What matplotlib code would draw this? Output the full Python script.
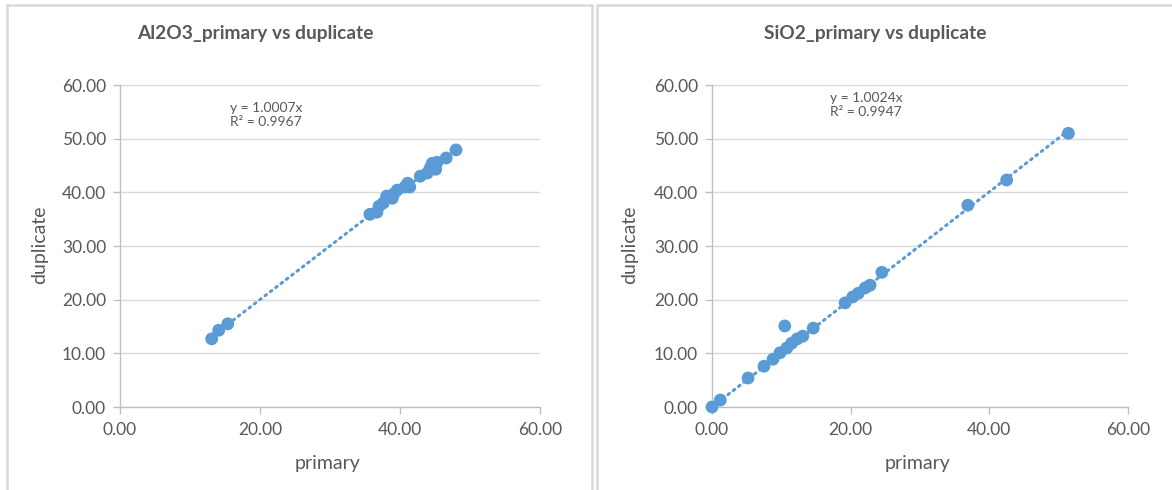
import matplotlib
matplotlib.use("Agg")
import matplotlib.pyplot as plt
from matplotlib.patches import Rectangle
import numpy as np

plt.rcParams['font.family'] = ['Lato', 'DejaVu Sans']

# Al2O3 data
al_primary = [13.1, 14.1, 15.4, 35.7, 36.7, 37.0, 37.6, 38.1, 38.9, 39.1, 39.6,
              40.7, 41.1, 41.4, 42.9, 43.9, 44.3, 44.6, 45.3, 45.1, 46.6, 48.0]
al_duplicate = [12.7, 14.3, 15.5, 35.9, 36.3, 37.4, 38.0, 39.3, 38.9, 39.7, 40.4,
                41.0, 41.7, 41.0, 43.0, 43.6, 44.5, 45.4, 45.6, 44.3, 46.4, 47.9]
al_slope = 1.0007
al_r2 = 0.9967

# SiO2 data
si_primary = [0.0, 1.2, 5.2, 7.5, 8.8, 9.8, 10.5, 10.8, 11.5, 12.3, 13.1, 14.6,
              19.2, 20.3, 21.1, 22.1, 22.8, 24.5, 36.9, 42.5, 51.4]
si_duplicate = [0.0, 1.3, 5.4, 7.6, 8.9, 10.1, 15.1, 11.0, 11.9, 12.7, 13.2, 14.7,
                19.4, 20.5, 21.2, 22.2, 22.7, 25.1, 37.6, 42.3, 51.0]
si_slope = 1.0024
si_r2 = 0.9947

titles = ["Al2O3_primary vs duplicate", "SiO2_primary vs duplicate"]
x_ticks = [0, 20, 40, 60]
y_ticks = [0, 10, 20, 30, 40, 50, 60]

W, H = 1172, 490
fig = plt.figure(figsize=(W / 100, H / 100), dpi=100)
fig.patch.set_facecolor('white')

blue = '#5b9bd5'
txt = '#595959'
axc = '#bfbfbf'
gridc = '#d9d9d9'

def fx(px):
    return px / W

def fy(py):
    return 1 - py / H

# panel borders
for (x0, x1) in [(7, 592), (597, 1180)]:
    fig.patches.append(Rectangle((fx(x0), fy(500)), fx(x1 - x0), (500 - 5) / H,
                                 transform=fig.transFigure, fill=False,
                                 edgecolor=gridc, linewidth=1.8, zorder=0))

panels = [
    dict(px=(120, 540), prim=al_primary, dup=al_duplicate, slope=al_slope, r2=al_r2,
         title_x=255, eq_x=230, eq_y=(112, 126.5), ylab_x=40, xlab_x=328),
    dict(px=(712, 1128), prim=si_primary, dup=si_duplicate, slope=si_slope, r2=si_r2,
         title_x=875, eq_x=830, eq_y=(102, 116.5), ylab_x=630, xlab_x=918),
]

for i, p in enumerate(panels):
    x0, x1 = p['px']
    ax = fig.add_axes([fx(x0), fy(407), fx(x1 - x0), (407 - 85) / H])
    ax.set_xlim(0, 60)
    ax.set_ylim(0, 60)
    ax.set_xticks(x_ticks)
    ax.set_yticks(y_ticks)
    ax.set_xticklabels([f"{v:.2f}" for v in x_ticks])
    ax.set_yticklabels([f"{v:.2f}" for v in y_ticks])
    for s in ['top', 'right']:
        ax.spines[s].set_visible(False)
    for s in ['left', 'bottom']:
        ax.spines[s].set_color(axc)
        ax.spines[s].set_linewidth(1.0)
    ax.tick_params(axis='both', colors=axc, labelcolor=txt, labelsize=12.5,
                   length=5, width=1.0, direction='out')
    ax.tick_params(axis='x', pad=6)
    ax.tick_params(axis='y', pad=5)
    ax.grid(axis='y', color=gridc, linewidth=1.0)
    ax.set_axisbelow(True)

    prim = np.array(p['prim'])
    dup = np.array(p['dup'])
    xs = np.array([prim.min(), prim.max()])
    ax.plot(xs, p['slope'] * xs, linestyle=(0, (0.6, 1.6)), color=blue,
            linewidth=2.2, dash_capstyle='round', zorder=2)
    ax.scatter(prim, dup, s=85, color=blue, edgecolors='none', zorder=3, clip_on=False)

    fig.text(fx(p['title_x']), fy(33), titles[i], ha='center', va='center',
             fontsize=13.8, fontweight='bold', color=txt)
    fig.text(fx(p['eq_x']), fy(p['eq_y'][0]), f"y = {p['slope']:.4f}x", ha='left',
             va='baseline', fontsize=10, color=txt)
    fig.text(fx(p['eq_x']), fy(p['eq_y'][1]), f"R² = {p['r2']:.4f}", ha='left',
             va='baseline', fontsize=10, color=txt)
    fig.text(fx(p['ylab_x']), fy(245), "duplicate", rotation=90, ha='center',
             va='center', fontsize=14, color=txt)
    fig.text(fx(p['xlab_x']), fy(463), "primary", ha='center', va='center',
             fontsize=14, color=txt)

fig.savefig("out.png", dpi=100, facecolor='white')
